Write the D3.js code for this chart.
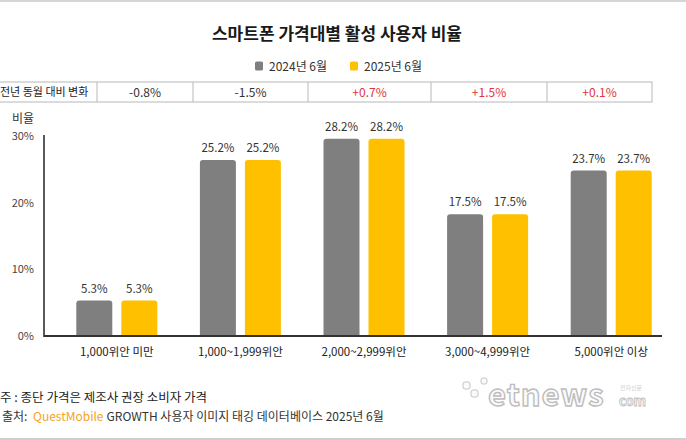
<!DOCTYPE html>
<html>
<head>
<meta charset="utf-8">
<script src="https://cdn.jsdelivr.net/npm/d3@7"></script>
<style>
  body { margin: 0; background: #fff; }
  text { font-family: "Noto Sans CJK KR", "Noto Sans", sans-serif; }
</style>
</head>
<body>
<div id="chart"></div>
<script>
const categories = ["1,000위안 미만", "1,000~1,999위안", "2,000~2,999위안", "3,000~4,999위안", "5,000위안 이상"];
const seriesNames = ["2024년 6월", "2025년 6월"];
const values2024 = [5.3, 25.2, 28.2, 17.5, 23.7];
const values2025 = [5.3, 25.2, 28.2, 17.5, 23.7];
const yoyChange = ["-0.8%", "-1.5%", "+0.7%", "+1.5%", "+0.1%"];
const yTicks = [0, 10, 20, 30];

const W = 686, H = 440;
const colors = ["#7f7f7f", "#ffc000"];
const tableEdges = [97, 193, 308, 431, 547, 652];

const svg = d3.select("#chart").append("svg")
    .attr("width", W)
    .attr("height", H);

// thin frame lines top and bottom
svg.append("line").attr("x1", 0).attr("x2", W).attr("y1", 1).attr("y2", 1)
    .attr("stroke", "#d6d6d6").attr("stroke-width", 2);
svg.append("line").attr("x1", 0).attr("x2", W).attr("y1", 439).attr("y2", 439)
    .attr("stroke", "#cfcfcf").attr("stroke-width", 2);

// title
svg.append("text")
    .attr("x", 337).attr("y", 40)
    .attr("text-anchor", "middle")
    .attr("font-size", 17).attr("font-weight", "bold")
    .attr("fill", "#1a1a1a")
    .text("스마트폰 가격대별 활성 사용자 비율");

// legend
const legendX = [255, 350];
seriesNames.forEach((s, i) => {
    svg.append("rect")
        .attr("x", legendX[i]).attr("y", 61.5)
        .attr("width", 8).attr("height", 9).attr("rx", 1.5)
        .attr("fill", colors[i]);
    svg.append("text")
        .attr("x", legendX[i] + 14).attr("y", 70.5)
        .attr("font-size", 12).attr("fill", "#333")
        .text(s);
});

// YoY change table
const tTop = 82, tBot = 102;
svg.append("rect")
    .attr("x", -2).attr("y", tTop)
    .attr("width", tableEdges[tableEdges.length - 1] + 2).attr("height", tBot - tTop)
    .attr("fill", "none").attr("stroke", "#b8b8b8");
tableEdges.slice(0, -1).forEach(x => {
    svg.append("line").attr("x1", x).attr("x2", x).attr("y1", tTop).attr("y2", tBot)
        .attr("stroke", "#b8b8b8");
});
svg.append("text")
    .attr("x", 0).attr("y", 96)
    .attr("font-size", 11).attr("fill", "#222")
    .text("전년 동월 대비 변화");
yoyChange.forEach((v, i) => {
    svg.append("text")
        .attr("x", (tableEdges[i] + tableEdges[i + 1]) / 2).attr("y", 96.5)
        .attr("text-anchor", "middle")
        .attr("font-size", 12)
        .attr("fill", v.startsWith("+") ? "#e0353c" : "#333")
        .text(v);
});

// scales (the source draws bars a bit taller than its tick labels suggest)
const x0 = d3.scaleBand().domain(categories).range([55, 673]);
const x1 = d3.scaleBand().domain(seriesNames).range([-40.5, 40.5]).paddingInner(0.2);
const y = d3.scaleLinear().domain([0, 30]).range([338, 126]);
const yAxis = d3.scaleLinear().domain([0, 30]).range([336, 136]);
const baseY = 336;

// y axis labels
svg.append("text")
    .attr("x", 12).attr("y", 123)
    .attr("font-size", 12).attr("fill", "#333")
    .text("비율");
yTicks.forEach(t => {
    svg.append("text")
        .attr("x", 34).attr("y", yAxis(t) + 4)
        .attr("text-anchor", "end")
        .attr("font-size", 11).attr("fill", "#444")
        .text(t + "%");
});

function roundTop(x, yTop, w, h, r) {
    return `M${x},${yTop + h}V${yTop + r}Q${x},${yTop} ${x + r},${yTop}` +
        `H${x + w - r}Q${x + w},${yTop} ${x + w},${yTop + r}V${yTop + h}Z`;
}

const allValues = [values2024, values2025];
categories.forEach((c, ci) => {
    const cx = x0(c) + x0.bandwidth() / 2;
    seriesNames.forEach((s, si) => {
        const v = allValues[si][ci];
        const bx = cx + x1(s);
        svg.append("path")
            .attr("d", roundTop(bx, y(v), x1.bandwidth(), baseY - y(v), 3))
            .attr("fill", colors[si]);
        svg.append("text")
            .attr("x", bx + x1.bandwidth() / 2).attr("y", y(v) - 8)
            .attr("text-anchor", "middle")
            .attr("font-size", 11.5).attr("fill", "#333")
            .text(v.toFixed(1) + "%");
    });
    svg.append("text")
        .attr("x", cx).attr("y", 356)
        .attr("text-anchor", "middle")
        .attr("font-size", 11.5).attr("fill", "#222")
        .text(c);
});

// axis lines
svg.append("line").attr("x1", 44).attr("x2", 44).attr("y1", 135).attr("y2", 337)
    .attr("stroke", "#222").attr("stroke-width", 1.5);
svg.append("line").attr("x1", 44).attr("x2", 662).attr("y1", baseY).attr("y2", baseY)
    .attr("stroke", "#333").attr("stroke-width", 2);

// footnotes
svg.append("text")
    .attr("x", 0).attr("y", 402)
    .attr("font-size", 12.5).attr("fill", "#222")
    .text("주 : 종단 가격은 제조사 권장 소비자 가격");
const src = svg.append("text")
    .attr("x", 2).attr("y", 421)
    .attr("font-size", 12).attr("fill", "#333");
src.append("tspan").text("출처:");
src.append("tspan").attr("x", 33).attr("fill", "#f5a41c").text("QuestMobile");
src.append("tspan").attr("dx", 3).text("GROWTH 사용자 이미지 태깅 데이터베이스 2025년 6월");

// etnews watermark
const wm = svg.append("g");
[[463, 382, 7], [471, 390, 7], [481, 378, 6]].forEach(d => {
    wm.append("rect").attr("x", d[0]).attr("y", d[1]).attr("width", d[2]).attr("height", d[2])
        .attr("rx", 2).attr("fill", "#fafafa").attr("stroke", "#c4c4c4");
});
wm.append("text")
    .attr("x", 488).attr("y", 406)
    .attr("font-family", "DejaVu Sans").attr("font-weight", "bold")
    .attr("font-size", 31).attr("letter-spacing", 1)
    .attr("fill", "#fbfbfb").attr("stroke", "#bdbdbd").attr("stroke-width", 1.4)
    .text("etnews");
wm.append("text")
    .attr("x", 619).attr("y", 406)
    .attr("font-family", "DejaVu Sans").attr("font-weight", "bold")
    .attr("font-size", 13)
    .attr("fill", "#fbfbfb").attr("stroke", "#bdbdbd").attr("stroke-width", 0.8)
    .text("com");
wm.append("text")
    .attr("x", 620).attr("y", 390)
    .attr("font-size", 6)
    .attr("fill", "#cfcfcf")
    .text("전자신문");
</script>
</body>
</html>
